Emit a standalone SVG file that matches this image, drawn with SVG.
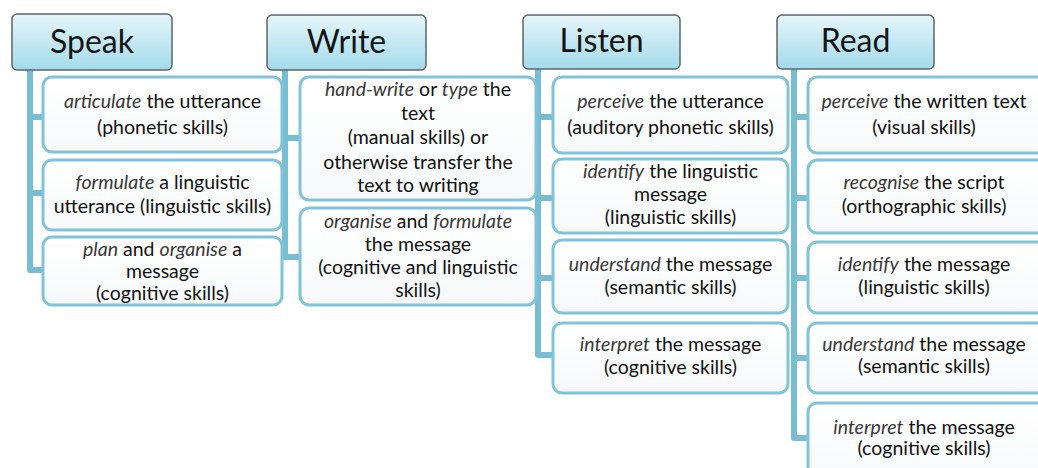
<svg xmlns="http://www.w3.org/2000/svg" width="1038" height="468" viewBox="0 0 1038 468">
  <defs>
    <linearGradient id="hdrFill" x1="0" y1="0" x2="0" y2="1">
      <stop offset="0" stop-color="#e6f5fa"/>
      <stop offset="1" stop-color="#a3dbeb"/>
    </linearGradient>
    <linearGradient id="boxFill" x1="0" y1="0" x2="0" y2="1">
      <stop offset="0" stop-color="#ffffff"/>
      <stop offset="1" stop-color="#f7f9fa"/>
    </linearGradient>
  </defs>
  <style>
    .hdr { fill: url(#hdrFill); stroke: #5f6668; stroke-width: 1.5; }
    .hdr-t { font-family: Lato, "Open Sans", sans-serif; font-size: 32px; fill: #141414; text-anchor: middle; }
    .box { fill: url(#boxFill); stroke: #7fc4d7; stroke-width: 3; }
    .t { font-family: Lato, "Open Sans", sans-serif; font-size: 19.5px; fill: #111; text-anchor: middle; }
    .t tspan.i { font-style: italic; fill: #383838; }
    .wire { fill: none; stroke: #78bdd1; stroke-width: 6; stroke-linejoin: round; }
  </style>
  <rect width="1038" height="468" fill="#ffffff"/>

  <!-- tree connectors: one spine per column with branches to each item -->
  <g id="connectors">
    <path class="wire" d="M30 70 V270 H43 M30 117 H43 M30 193 H43"/>
    <path class="wire" d="M285 70 V257 H300 M285 138 H300"/>
    <path class="wire" d="M538 69 V355 H553 M538 117 H553 M538 198 H553 M538 278 H553"/>
    <path class="wire" d="M794 69 V438 H808 M794 117 H808 M794 198 H808 M794 278 H808 M794 358 H808"/>
  </g>

  <!-- Speak column -->
  <g id="speak">
    <rect class="hdr" x="12" y="14" width="160" height="56" rx="5"/>
    <text class="hdr-t" x="92" y="53">Speak</text>
  </g>
  <g id="speak-1">
    <rect class="box" x="43" y="77" width="239" height="75" rx="9"/>
    <text class="t" x="162.5" y="108"><tspan class="i">articulate</tspan> the utterance</text>
    <text class="t" x="162.5" y="134">(phonetic skills)</text>
  </g>
  <g id="speak-2">
    <rect class="box" x="43" y="160" width="239" height="70" rx="9"/>
    <text class="t" x="162.5" y="189"><tspan class="i">formulate</tspan> a linguistic</text>
    <text class="t" x="162.5" y="213">utterance (linguistic skills)</text>
  </g>
  <g id="speak-3">
    <rect class="box" x="43" y="237" width="239" height="68" rx="9"/>
    <text class="t" x="162.5" y="256"><tspan class="i">plan</tspan> and <tspan class="i">organise</tspan> a</text>
    <text class="t" x="162.5" y="278">message</text>
    <text class="t" x="162.5" y="300">(cognitive skills)</text>
  </g>

  <!-- Write column -->
  <g id="write">
    <rect class="hdr" x="267" y="15" width="159" height="55" rx="5"/>
    <text class="hdr-t" x="346.5" y="53">Write</text>
  </g>
  <g id="write-1">
    <rect class="box" x="300" y="77" width="236" height="123" rx="9"/>
    <text class="t" x="418" y="96"><tspan class="i">hand-write</tspan> or <tspan class="i">type</tspan> the</text>
    <text class="t" x="418" y="120">text</text>
    <text class="t" x="418" y="144">(manual skills) or</text>
    <text class="t" x="418" y="169">otherwise transfer the</text>
    <text class="t" x="418" y="192">text to writing</text>
  </g>
  <g id="write-2">
    <rect class="box" x="300" y="208" width="236" height="97" rx="9"/>
    <text class="t" x="418" y="228"><tspan class="i">organise</tspan> and <tspan class="i">formulate</tspan></text>
    <text class="t" x="418" y="251">the message</text>
    <text class="t" x="418" y="274">(cognitive and linguistic</text>
    <text class="t" x="418" y="297">skills)</text>
  </g>

  <!-- Listen column -->
  <g id="listen">
    <rect class="hdr" x="523" y="15" width="157" height="54" rx="5"/>
    <text class="hdr-t" x="601.5" y="52">Listen</text>
  </g>
  <g id="listen-1">
    <rect class="box" x="553" y="77" width="235" height="76" rx="9"/>
    <text class="t" x="670.5" y="108"><tspan class="i">perceive</tspan> the utterance</text>
    <text class="t" x="670.5" y="134">(auditory phonetic skills)</text>
  </g>
  <g id="listen-2">
    <rect class="box" x="553" y="159" width="235" height="74" rx="9"/>
    <text class="t" x="670.5" y="178"><tspan class="i">identify</tspan> the linguistic</text>
    <text class="t" x="670.5" y="201">message</text>
    <text class="t" x="670.5" y="224">(linguistic skills)</text>
  </g>
  <g id="listen-3">
    <rect class="box" x="553" y="240" width="235" height="73" rx="9"/>
    <text class="t" x="670.5" y="271"><tspan class="i">understand</tspan> the message</text>
    <text class="t" x="670.5" y="294">(semantic skills)</text>
  </g>
  <g id="listen-4">
    <rect class="box" x="553" y="323" width="235" height="70" rx="9"/>
    <text class="t" x="670.5" y="351"><tspan class="i">interpret</tspan> the message</text>
    <text class="t" x="670.5" y="374">(cognitive skills)</text>
  </g>

  <!-- Read column (items run past the right edge) -->
  <g id="read">
    <rect class="hdr" x="777" y="15" width="157" height="54" rx="5"/>
    <text class="hdr-t" x="855.5" y="52">Read</text>
  </g>
  <g id="read-1">
    <rect class="box" x="808" y="77" width="240" height="76" rx="9"/>
    <text class="t" x="924" y="108"><tspan class="i">perceive</tspan> the written text</text>
    <text class="t" x="924" y="134">(visual skills)</text>
  </g>
  <g id="read-2">
    <rect class="box" x="808" y="160" width="240" height="73" rx="9"/>
    <text class="t" x="924" y="189"><tspan class="i">recognise</tspan> the script</text>
    <text class="t" x="924" y="213">(orthographic skills)</text>
  </g>
  <g id="read-3">
    <rect class="box" x="808" y="242" width="240" height="71" rx="9"/>
    <text class="t" x="924" y="271"><tspan class="i">identify</tspan> the message</text>
    <text class="t" x="924" y="294">(linguistic skills)</text>
  </g>
  <g id="read-4">
    <rect class="box" x="808" y="323" width="240" height="70" rx="9"/>
    <text class="t" x="924" y="351"><tspan class="i">understand</tspan> the message</text>
    <text class="t" x="924" y="373">(semantic skills)</text>
  </g>
  <g id="read-5">
    <rect class="box" x="808" y="403" width="240" height="80" rx="9"/>
    <text class="t" x="924" y="434"><tspan class="i">interpret</tspan> the message</text>
    <text class="t" x="924" y="455">(cognitive skills)</text>
  </g>
</svg>
